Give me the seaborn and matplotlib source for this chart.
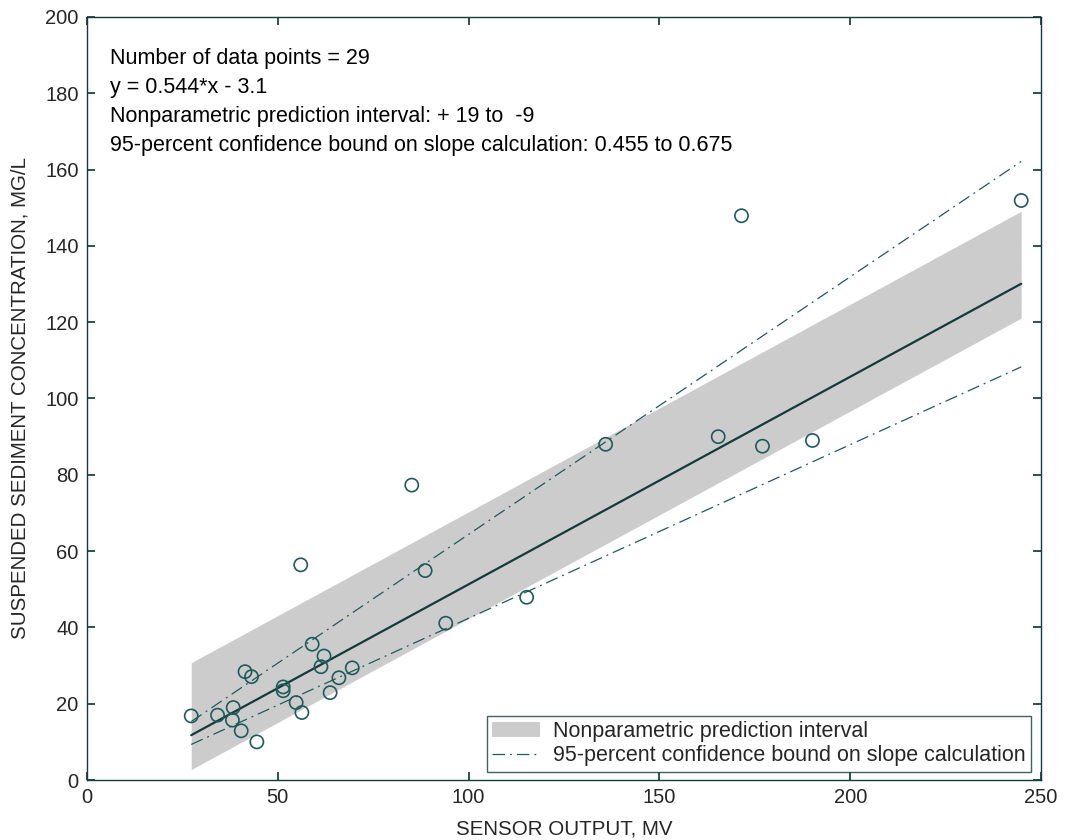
import numpy as np
import pandas as pd
import matplotlib
matplotlib.use("Agg")
import matplotlib.pyplot as plt
import seaborn as sns
from matplotlib.patches import Patch
from matplotlib.lines import Line2D

sensor_mv = [27.3, 34.2, 38.3, 38.1, 40.4, 41.4, 43.1, 44.5, 56.0, 51.4, 51.4,
             54.8, 56.3, 59.0, 62.1, 61.3, 66.0, 69.5, 63.7, 88.6, 85.1, 115.2,
             94.0, 135.9, 171.5, 244.8, 165.4, 177.0, 190.1]
ssc_mgl = [16.8, 17.0, 19.0, 15.7, 12.9, 28.4, 27.1, 10.0, 56.4, 24.4, 23.4,
           20.3, 17.7, 35.6, 32.5, 29.7, 26.8, 29.4, 22.9, 54.9, 77.3, 47.9,
           41.1, 88.0, 147.9, 151.9, 90.0, 87.5, 89.0]

slope = 0.544
intercept = -3.1
pi_upper = 19
pi_lower = -9
slope_lo = 0.455
slope_hi = 0.675

x_ticks = [0, 50, 100, 150, 200, 250]
y_ticks = [0, 20, 40, 60, 80, 100, 120, 140, 160, 180, 200]

annotation = ["Number of data points = 29",
              "y = 0.544*x - 3.1",
              "Nonparametric prediction interval: + 19 to  -9",
              "95-percent confidence bound on slope calculation: 0.455 to 0.675"]

sns.set_theme(style="white")
plt.rcParams['font.family'] = ['Liberation Sans', 'DejaVu Sans']

ink = "#143a3a"
fig = plt.figure(figsize=(10.76, 8.4), dpi=100)
ax = fig.add_axes([0.0809, 0.0714, 0.8866, 0.9084])

df = pd.DataFrame({"x": sensor_mv, "y": ssc_mgl})
xs = np.array([min(sensor_mv), max(sensor_mv)])
fit = slope * xs + intercept

ax.fill_between(xs, fit + pi_lower, fit + pi_upper, color="#cccccc", lw=0, zorder=1)
line_df = pd.DataFrame({"x": xs, "fit": fit,
                        "hi": slope_hi * xs + intercept,
                        "lo": slope_lo * xs + intercept})
sns.lineplot(data=line_df, x="x", y="fit", ax=ax, color=ink, lw=1.6, zorder=3)
for col in ["hi", "lo"]:
    sns.lineplot(data=line_df, x="x", y=col, ax=ax, color="#1f5a5a", lw=0.9,
                 dashes=False, zorder=3).lines[-1].set_dashes([10, 4, 1.5, 4])
sns.scatterplot(data=df, x="x", y="y", ax=ax, marker="o", s=90,
                facecolor="none", edgecolor="#1f5a5a", linewidth=1.2, zorder=4)

ax.set_xlim(0, 250)
ax.set_ylim(0, 200)
ax.set_xticks(x_ticks)
ax.set_yticks(y_ticks)
ax.tick_params(direction="in", length=6, top=True, right=True, labelsize=14.5,
               color=ink, pad=6, bottom=True, left=True)
for s in ax.spines.values():
    s.set_color(ink)
    s.set_linewidth(1.0)
ax.set_xlabel("SENSOR OUTPUT, MV", fontsize=14.8, labelpad=9)
ax.set_ylabel("SUSPENDED SEDIMENT CONCENTRATION, MG/L", fontsize=14.8, labelpad=11)

for i, t in enumerate(annotation):
    ax.text(0.024, 0.945 - i * 0.0376, t, transform=ax.transAxes, fontsize=15.5,
            va="center", ha="left", color="black")

handles = [Patch(facecolor="#cccccc", edgecolor="none"),
           Line2D([0], [0], color="#1f5a5a", lw=0.9, dashes=[10, 4, 1.5, 4])]
leg = ax.legend(handles, ["Nonparametric prediction interval",
                          "95-percent confidence bound on slope calculation"],
                loc="lower right", fontsize=15.5, frameon=True, fancybox=False,
                edgecolor=ink, borderpad=0.25, handlelength=2.2, handletextpad=0.6,
                labelspacing=0.15, borderaxespad=0, bbox_to_anchor=(0.989, 0.011))
leg.get_frame().set_linewidth(1.0)

fig.savefig("out.png", dpi=100)
